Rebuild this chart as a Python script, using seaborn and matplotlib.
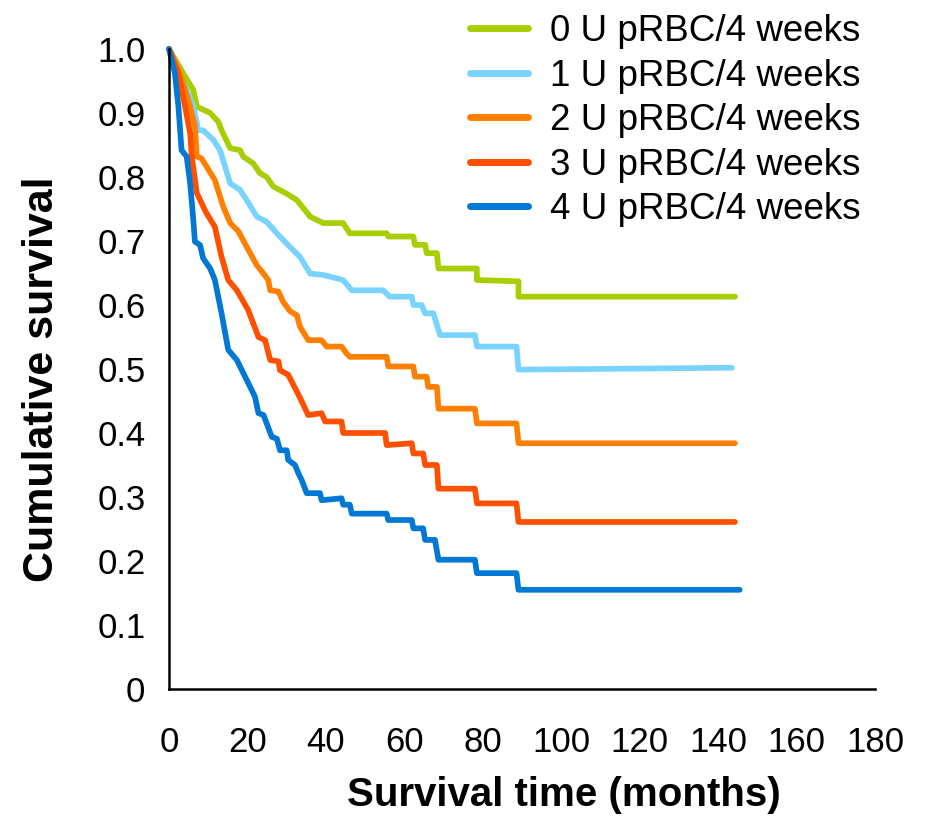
import numpy as np
import pandas as pd
import matplotlib
matplotlib.use("Agg")
import matplotlib.pyplot as plt
import seaborn as sns

# ---- data ----
groups = ["0 U pRBC/4 weeks", "1 U pRBC/4 weeks", "2 U pRBC/4 weeks",
          "3 U pRBC/4 weeks", "4 U pRBC/4 weeks"]
colors = ["#A6CE00", "#78D4FF", "#FF8000", "#FF5000", "#0078D4"]

t0 = [0, 4.1, 6.2, 7.1, 10.5, 12.6, 13.4, 15.6, 18.1, 18.9,
      21.5, 23.2, 24.9, 26.6, 30, 32.6, 36, 39.3, 44.4, 46.1,
      55.5, 55.9, 62.3, 62.7, 65.3, 65.7, 68.3, 68.7, 78.5, 78.5,
      89.1, 89.1, 144.3]
s0 = [1.0, .957, .936, .91, .90, .886, .873, .845, .842, .832,
      .821, .806, .80, .785, .774, .764, .738, .728, .728, .712,
      .712, .707, .707, .694, .694, .681, .681, .657, .657, .639,
      .637, .613, .613]

t1 = [0, 4.5, 6.2, 7.5, 8.7, 11.3, 13, 15.6, 18.1, 19.8,
      22.4, 24.9, 27.5, 30, 33.4, 36, 39.3, 44.4, 46.6, 54.6,
      56.3, 61.9, 62.3, 64.4, 65.3, 67.4, 69.1, 78, 78.5, 88.6,
      89.1, 143.5]
s1 = [1.0, .936, .91, .873, .873, .858, .842, .79, .78, .764,
      .738, .730, .712, .696, .675, .649, .647, .639, .623, .623,
      .613, .613, .60, .60, .587, .587, .553, .553, .535, .535,
      .499, .502]

t2 = [0, 2.8, 5.4, 6.6, 7.1, 8.3, 9.6, 11.7, 13.8, 15.6,
      17.7, 19.8, 22.4, 24.1, 25.3, 25.8, 27.9, 29.1, 30.9, 32.6,
      33.4, 35.5, 38.9, 40.2, 44.0, 45.3, 46.1, 55.5, 55.9, 62.3,
      62.7, 65.7, 66.1, 68.3, 68.7, 78, 78.5, 88.6, 89.1, 144.3]
s2 = [1.0, .962, .91, .879, .832, .829, .816, .795, .754, .728,
      .715, .691, .662, .649, .639, .623, .621, .605, .590, .584,
      .566, .545, .545, .535, .535, .524, .519, .519, .504, .504,
      .488, .488, .472, .472, .438, .438, .415, .415, .384, .384]

t3 = [0, 2.4, 4.1, 5.4, 5.8, 7.1, 8.7, 9.6, 11.7, 13.4,
      15.1, 17.3, 20.2, 21.5, 22.8, 24.5, 25.8, 27.9, 28.3, 30.4,
      33.4, 35.5, 38.9, 39.8, 44.0, 44.4, 55.1, 55.5, 61.9, 62.3,
      64.8, 65.3, 68.3, 68.7, 78, 78.5, 88.6, 89.1, 144.3]
s3 = [1.0, .962, .91, .868, .832, .775, .754, .743, .722, .675,
      .639, .623, .592, .571, .55, .545, .514, .512, .498, .491,
      .455, .428, .431, .418, .418, .40, .40, .381, .384, .368,
      .368, .35, .35, .313, .313, .29, .29, .261, .261]

t4 = [0, 1.5, 2.4, 3.2, 4.5, 5.4, 6.2, 6.6, 7.9, 8.7,
      10.5, 11.7, 13.4, 15.1, 17.3, 19.4, 21.9, 22.8, 24.1, 24.9,
      26.2, 27.5, 28.3, 30.0, 30.4, 32.1, 33.0, 33.8, 35.1, 38.5,
      38.9, 44.0, 44.4, 46.1, 46.6, 55.5, 55.9, 61.9, 62.3, 64.8,
      65.3, 67.8, 68.7, 78, 78.5, 88.6, 89.1, 145.5]
s4 = [1.0, .962, .91, .842, .832, .79, .733, .699, .694, .673,
      .657, .639, .587, .53, .514, .488, .457, .431, .428, .415,
      .394, .391, .373, .373, .358, .35, .337, .327, .306, .306,
      .295, .298, .288, .288, .274, .274, .264, .264, .251, .251,
      .233, .233, .202, .202, .181, .181, .155, .155]

x_ticks = [0, 20, 40, 60, 80, 100, 120, 140, 160, 180]
y_ticks = [0, 0.1, 0.2, 0.3, 0.4, 0.5, 0.6, 0.7, 0.8, 0.9, 1.0]
y_ticklabels = ["0", "0.1", "0.2", "0.3", "0.4", "0.5", "0.6", "0.7", "0.8", "0.9", "1.0"]

frames = []
for g, t, s in zip(groups, [t0, t1, t2, t3, t4], [s0, s1, s2, s3, s4]):
    frames.append(pd.DataFrame({"time": t, "surv": s, "group": g}))
df = pd.concat(frames, ignore_index=True)

sns.set_style("white")
plt.rcParams["font.family"] = ["Liberation Sans", "DejaVu Sans"]
plt.rcParams["text.color"] = "black"

fig = plt.figure(figsize=(9.26, 8.18), dpi=100)
ax = fig.add_axes([169 / 926, 1 - 689 / 818, (875 - 169) / 926, (689 - 49) / 818])

sns.lineplot(data=df, x="time", y="surv", hue="group", hue_order=groups,
             palette=colors, sort=False, estimator=None, units="group",
             linewidth=4.1, ax=ax)
for ln in ax.get_lines():
    ln.set_clip_on(False)

ax.set_xlim(0, 180)
ax.set_ylim(0, 1.0)
ax.set_xticks(x_ticks)
ax.set_xticklabels([str(v) for v in x_ticks])
ax.set_yticks(y_ticks)
ax.set_yticklabels(y_ticklabels)
for side in ["top", "right"]:
    ax.spines[side].set_visible(False)
for side in ["left", "bottom"]:
    ax.spines[side].set_color("black")
    ax.spines[side].set_linewidth(1.8)
ax.tick_params(axis="both", which="major", direction="out", length=7,
               width=1.6, color="black", labelsize=25, labelcolor="black")
ax.tick_params(axis="x", pad=20)
ax.tick_params(axis="y", pad=10)

ax.set_xlabel("Survival time (months)", fontsize=29, fontweight="bold", color="black")
ax.set_ylabel("Cumulative survival", fontsize=31, fontweight="bold", color="black")
ax.xaxis.set_label_coords((564 - 169) / (875 - 169), -(776 - 689) / (689 - 49))
ax.yaxis.set_label_coords(-(169 - 62) / (875 - 169), (689 - 379) / (689 - 49))

old = ax.get_legend()
handles = old.legend_handles
labels = [t.get_text() for t in old.get_texts()]
old.remove()
leg = ax.legend(handles, labels, loc="upper left", bbox_to_anchor=(470 / 926, 1 - 14 / 818),
                bbox_transform=fig.transFigure, frameon=False, fontsize=26.5,
                handlelength=1.58, handletextpad=0.6, labelspacing=0.26,
                borderpad=0, borderaxespad=0)
for h in leg.legend_handles:
    h.set_linewidth(5)
for txt in leg.get_texts():
    txt.set_color("black")

fig.savefig("out.png", dpi=100, facecolor="white")
